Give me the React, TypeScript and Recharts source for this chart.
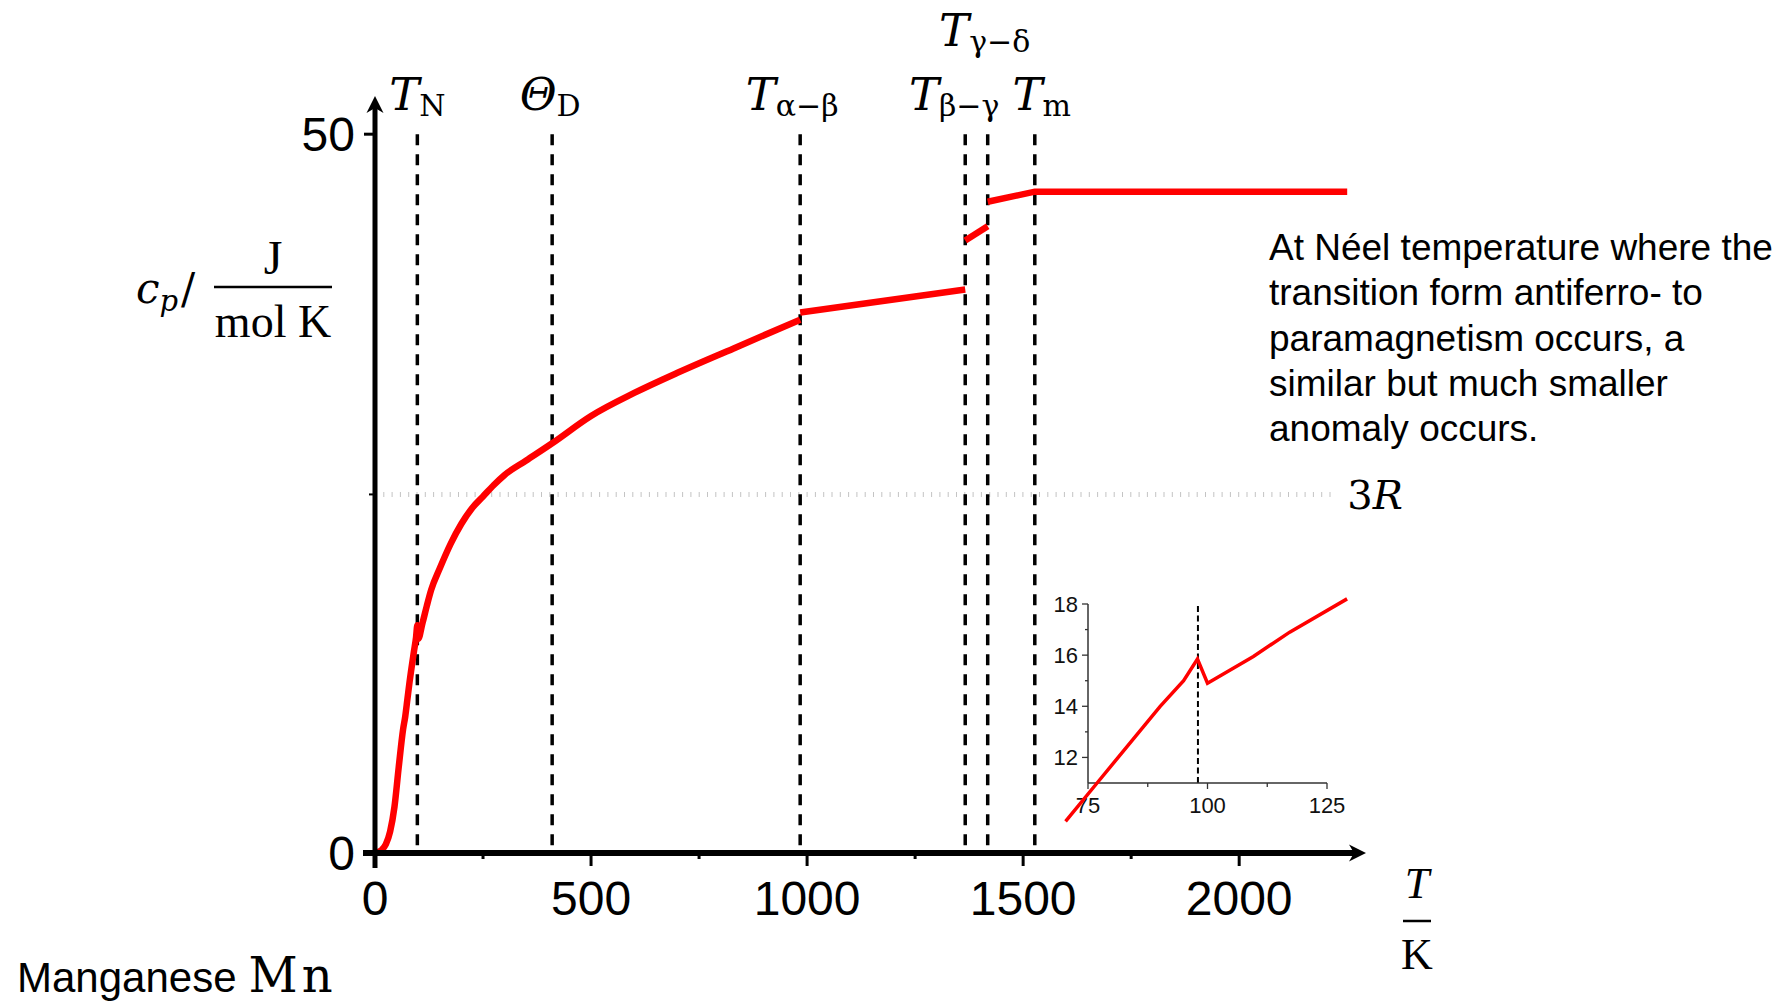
import React from 'react';
import { LineChart, Line, XAxis, YAxis, ReferenceLine } from 'recharts';

// Heat capacity of manganese (T in K, cp in J/(mol K))
const alphaT = [0, 15, 25, 35, 45, 55, 65, 70, 75, 80, 90, 95, 98, 100, 110, 120, 130, 150, 175, 200, 225, 250, 275, 300, 350, 410, 500, 600, 700, 830, 984];
const alphaCp = [0, 0.2, 0.6, 1.5, 3.2, 6.0, 8.6, 9.5, 10.7, 11.9, 14.0, 15.0, 15.85, 14.9, 16.0, 17.2, 18.3, 19.8, 21.5, 22.9, 24.0, 24.8, 25.6, 26.3, 27.3, 28.5, 30.4, 32.0, 33.4, 35.1, 37.1];
const betaT = [984, 1366];
const betaCp = [37.6, 39.2];
const gammaT = [1366, 1418];
const gammaCp = [42.6, 43.6];
const deltaLiquidT = [1418, 1527, 2250];
const deltaLiquidCp = [45.3, 46.0, 46.0];

// inset: zoom around the Néel temperature
const insetT = [70.3, 76.9, 90.1, 95, 97.9, 100, 109.6, 117.2, 129.2];
const insetCp = [9.5, 11.0, 14.0, 15.0, 15.85, 14.9, 15.95, 16.9, 18.2];

// transition temperatures and their symbols
const transitionT = [98, 410, 984, 1366, 1418, 1527];
const transitionSymbol = ['T', 'Θ', 'T', 'T', 'T', 'T'];
const transitionSub = ['N', 'D', 'α−β', 'β−γ', 'γ−δ', 'm'];

const THREE_R = 3 * 8.314;
const mainXTicks = [0, 250, 500, 750, 1000, 1250, 1500, 1750, 2000];
const mainYTicks = [0, THREE_R, 50];
const insetXTicks = [75, 87.5, 100, 112.5, 125];
const insetYTicks = [12, 13, 14, 15, 16, 17, 18];

const annotationLines = [
  'At Néel temperature where the',
  'transition form antiferro- to',
  'paramagnetism occurs, a',
  'similar but much smaller',
  'anomaly occurs.',
];

const SANS = '"Liberation Sans", Arial, sans-serif';
const MATH = '"DejaVu Serif", serif';
const SERIF = '"Liberation Serif", "Times New Roman", serif';
const RED = '#ff0000';

const zip = (xs: number[], ys: number[]) => xs.map((T, i) => ({ T, cp: ys[i] }));
const alphaData = zip(alphaT, alphaCp);
const betaData = zip(betaT, betaCp);
const gammaData = zip(gammaT, gammaCp);
const deltaData = zip(deltaLiquidT, deltaLiquidCp);
const insetData = zip(insetT, insetCp);

// label offsets for the transition lines (px) and which row they sit in
const labelDx = [0, -2, -8, -11, -3, 7];
const labelRaised = [false, false, false, false, true, false];

// page layout (px)
const PAGE_W = 1783;
const PAGE_H = 1002;
const PLOT = { left: 375, right: 1358, top: 104, bottom: 853 };
const X_MAX = 2275;
const Y_MAX = 52.1;

const INSET_BOX = { left: 1000, top: 560, w: 400, h: 300 };
const INSET_PLOT = { left: 1088, right: 1327, top: 604, bottom: 783 };
const INSET_X = [75, 125];
const INSET_Y = [11, 18];
const INSET_X_WIDE = [70, 130];
const INSET_Y_WIDE = [9, 19];

const MainXTick = (props: any) => {
  const { x, y, payload } = props;
  const v = payload.value as number;
  const major = v % 500 === 0;
  const len = v === 0 ? 15 : major ? 13 : 6;
  return (
    <g>
      <line x1={x} x2={x} y1={y} y2={y + len} stroke="#000" strokeWidth={v === 0 ? 5 : 3} />
      {major && (
        <text x={x} y={y + 62} textAnchor="middle" fontFamily={SANS} fontSize={48} fill="#000">
          {v}
        </text>
      )}
    </g>
  );
};

const MainYTick = (props: any) => {
  const { x, y, payload } = props;
  const v = payload.value as number;
  const labelled = v === 0 || v === 50;
  const len = v === 0 ? 12 : v === 50 ? 11 : 6;
  return (
    <g>
      <line x1={x} x2={x - len} y1={y} y2={y} stroke="#000" strokeWidth={v === 0 ? 6 : v === 50 ? 3 : 2} />
      {labelled && (
        <text x={x - 20} y={y + 17} textAnchor="end" fontFamily={SANS} fontSize={48} fill="#000">
          {v}
        </text>
      )}
    </g>
  );
};

const InsetXTick = (props: any) => {
  const { x, y, payload } = props;
  const v = payload.value as number;
  const major = Number.isInteger(v);
  return (
    <g>
      <line x1={x} x2={x} y1={y} y2={y + (major ? 6 : 4)} stroke="#333" strokeWidth={1.3} />
      {major && (
        <text x={x} y={y + 30} textAnchor="middle" fontFamily={SANS} fontSize={22} fill="#111">
          {v}
        </text>
      )}
    </g>
  );
};

const InsetYTick = (props: any) => {
  const { x, y, payload } = props;
  const v = payload.value as number;
  const major = v % 2 === 0;
  return (
    <g>
      <line x1={x} x2={x - (major ? 6 : 3)} y1={y} y2={y} stroke="#333" strokeWidth={1.3} />
      {major && (
        <text x={x - 10} y={y + 8} textAnchor="end" fontFamily={SANS} fontSize={22} fill="#111">
          {v}
        </text>
      )}
    </g>
  );
};

const boxOf = (vb: any) => {
  if (!vb) return { x: 0, y: 0, width: 0 };
  if (vb.x1 !== undefined) {
    return { x: Math.min(vb.x1, vb.x2), y: Math.min(vb.y1, vb.y2), width: Math.abs(vb.x2 - vb.x1) };
  }
  return { x: vb.x, y: vb.y, width: vb.width || 0 };
};

const phaseLabel = (i: number) => (props: any) => {
  const b = boxOf(props.viewBox);
  const baseline = b.y - (labelRaised[i] ? 88 : 24);
  return (
    <text x={b.x + labelDx[i]} y={baseline} textAnchor="middle" fontFamily={MATH} fontSize={45} fill="#000">
      <tspan fontStyle="italic">{transitionSymbol[i]}</tspan>
      <tspan fontSize={30} dy={6}>{transitionSub[i]}</tspan>
    </text>
  );
};

const threeRLabel = (props: any) => {
  const b = boxOf(props.viewBox);
  return (
    <text x={b.x + b.width + 13} y={b.y + 15} fontFamily={MATH} fontSize={40} fill="#000">
      3<tspan fontStyle="italic">R</tspan>
    </text>
  );
};

const MainChart = () => (
  <LineChart
    width={PAGE_W}
    height={PAGE_H}
    margin={{ top: PLOT.top, right: PAGE_W - PLOT.right, bottom: PAGE_H - PLOT.bottom - 40, left: PLOT.left - 40 }}
  >
    <XAxis
      dataKey="T"
      type="number"
      domain={[0, X_MAX]}
      allowDataOverflow
      ticks={mainXTicks}
      interval={0}
      height={40}
      tickSize={0}
      tickMargin={0}
      tickLine={false}
      tick={<MainXTick />}
      axisLine={{ stroke: '#000', strokeWidth: 6, markerEnd: 'url(#arrowHead)' }}
    />
    <YAxis
      dataKey="cp"
      type="number"
      domain={[0, Y_MAX]}
      allowDataOverflow
      ticks={mainYTicks}
      interval={0}
      width={40}
      tickSize={0}
      tickMargin={0}
      tickLine={false}
      tick={<MainYTick />}
      axisLine={{ stroke: '#000', strokeWidth: 5, markerStart: 'url(#arrowHead)' }}
    />
    <ReferenceLine
      segment={[{ x: 0, y: THREE_R }, { x: 2220, y: THREE_R }]}
      stroke="#c4c4c4"
      strokeWidth={5}
      strokeDasharray="1 7.3"
      label={threeRLabel}
    />
    {transitionT.map((t, i) => (
      <ReferenceLine
        key={`tr-${i}`}
        segment={[{ x: t, y: 50 }, { x: t, y: 0 }]}
        stroke="#000"
        strokeWidth={3.5}
        strokeDasharray="11 9"
        label={phaseLabel(i)}
      />
    ))}
    <Line data={alphaData} dataKey="cp" type="monotone" stroke={RED} strokeWidth={6.5} dot={false} activeDot={false} isAnimationActive={false} />
    <Line data={betaData} dataKey="cp" type="linear" stroke={RED} strokeWidth={6.5} dot={false} activeDot={false} isAnimationActive={false} />
    <Line data={gammaData} dataKey="cp" type="linear" stroke={RED} strokeWidth={6.5} dot={false} activeDot={false} isAnimationActive={false} />
    <Line data={deltaData} dataKey="cp" type="linear" stroke={RED} strokeWidth={6.5} dot={false} activeDot={false} isAnimationActive={false} />
  </LineChart>
);

// px per unit in the inset, shared by the axis chart and the curve chart
const insetSx = (INSET_PLOT.right - INSET_PLOT.left) / (INSET_X[1] - INSET_X[0]);
const insetSy = (INSET_PLOT.bottom - INSET_PLOT.top) / (INSET_Y[1] - INSET_Y[0]);
const wideLeft = INSET_PLOT.left - (INSET_X[0] - INSET_X_WIDE[0]) * insetSx;
const wideRight = INSET_PLOT.right + (INSET_X_WIDE[1] - INSET_X[1]) * insetSx;
const wideTop = INSET_PLOT.top - (INSET_Y_WIDE[1] - INSET_Y[1]) * insetSy;
const wideBottom = INSET_PLOT.bottom + (INSET_Y[0] - INSET_Y_WIDE[0]) * insetSy;

const InsetAxes = () => (
  <LineChart
    width={INSET_BOX.w}
    height={INSET_BOX.h}
    data={insetData}
    margin={{
      top: INSET_PLOT.top - INSET_BOX.top,
      right: INSET_BOX.left + INSET_BOX.w - INSET_PLOT.right,
      bottom: INSET_BOX.top + INSET_BOX.h - INSET_PLOT.bottom - 40,
      left: INSET_PLOT.left - INSET_BOX.left - 40,
    }}
  >
    <XAxis
      dataKey="T"
      type="number"
      domain={INSET_X}
      allowDataOverflow
      ticks={insetXTicks}
      interval={0}
      height={40}
      tickSize={0}
      tickMargin={0}
      tickLine={false}
      tick={<InsetXTick />}
      axisLine={{ stroke: '#333', strokeWidth: 1.5 }}
    />
    <YAxis
      dataKey="cp"
      type="number"
      domain={INSET_Y}
      allowDataOverflow
      ticks={insetYTicks}
      interval={0}
      width={40}
      tickSize={0}
      tickMargin={0}
      tickLine={false}
      tick={<InsetYTick />}
      axisLine={{ stroke: '#333', strokeWidth: 1.5 }}
    />
    <ReferenceLine x={transitionT[0]} stroke="#000" strokeWidth={2} strokeDasharray="6 3.5" />
  </LineChart>
);

const InsetCurve = () => (
  <LineChart
    width={INSET_BOX.w}
    height={INSET_BOX.h}
    margin={{
      top: wideTop - INSET_BOX.top,
      right: INSET_BOX.left + INSET_BOX.w - wideRight,
      bottom: INSET_BOX.top + INSET_BOX.h - wideBottom,
      left: wideLeft - INSET_BOX.left,
    }}
  >
    <XAxis dataKey="T" type="number" domain={INSET_X_WIDE} allowDataOverflow hide />
    <YAxis dataKey="cp" type="number" domain={INSET_Y_WIDE} allowDataOverflow hide />
    <Line data={insetData} dataKey="cp" type="linear" stroke={RED} strokeWidth={3.5} dot={false} activeDot={false} isAnimationActive={false} />
  </LineChart>
);

const abs = (left: number, top: number, w: number, h: number): React.CSSProperties => ({
  position: 'absolute',
  left,
  top,
  width: w,
  height: h,
});

export default function App() {
  return (
    <div style={{ ...abs(0, 0, PAGE_W, PAGE_H), background: '#fff', overflow: 'hidden' }}>
      <div style={abs(0, 0, PAGE_W, PAGE_H)}>
        <MainChart />
      </div>
      <div style={abs(INSET_BOX.left, INSET_BOX.top, INSET_BOX.w, INSET_BOX.h)}>
        <InsetAxes />
      </div>
      <div style={abs(INSET_BOX.left, INSET_BOX.top, INSET_BOX.w, INSET_BOX.h)}>
        <InsetCurve />
      </div>
      {/* titles, arrow heads and the annotation */}
      <svg width={PAGE_W} height={PAGE_H} style={{ ...abs(0, 0, PAGE_W, PAGE_H), pointerEvents: 'none' }}>
        <defs>
          <marker
            id="arrowHead"
            viewBox="0 0 20 20"
            markerWidth={20}
            markerHeight={20}
            refX={10}
            refY={10}
            markerUnits="userSpaceOnUse"
            orient="auto-start-reverse"
          >
            <path d="M1,1.5 L18,10 L1,18.5 L6,10 Z" fill="#000" />
          </marker>
        </defs>

        {/* y-axis title: c_p / (J / mol K) */}
        <text x={136} y={303} fontFamily={MATH} fontSize={42} fill="#000">
          <tspan fontStyle="italic">c</tspan>
          <tspan fontStyle="italic" fontSize={29} dy={8}>p</tspan>
          <tspan dy={-8} dx={3}>/</tspan>
        </text>
        <text x={273} y={274} textAnchor="middle" fontFamily={SERIF} fontSize={48} fill="#000">J</text>
        <line x1={214} x2={332} y1={287} y2={287} stroke="#000" strokeWidth={2.5} />
        <text x={273} y={337} textAnchor="middle" fontFamily={SERIF} fontSize={46} fill="#000">mol K</text>

        {/* x-axis title: T / K */}
        <text x={1417} y={898} textAnchor="middle" fontFamily={SERIF} fontSize={44} fontStyle="italic" fill="#000">T</text>
        <line x1={1403} x2={1431} y1={921} y2={921} stroke="#000" strokeWidth={2.5} />
        <text x={1417} y={969} textAnchor="middle" fontFamily={SERIF} fontSize={44} fill="#000">K</text>

        {/* annotation */}
        <text fontFamily={SANS} fontSize={37} fill="#000">
          {annotationLines.map((line, i) => (
            <tspan key={i} x={1269} y={260 + i * 45.3}>
              {line}
            </tspan>
          ))}
        </text>

        <text x={17} y={992} fontFamily={SANS} fontSize={42} fill="#000">
          Manganese
          <tspan fontFamily={MATH} fontSize={48} dx={12}>M</tspan>
          <tspan fontFamily={MATH} fontSize={48} dx={4}>n</tspan>
        </text>
      </svg>
    </div>
  );
}
